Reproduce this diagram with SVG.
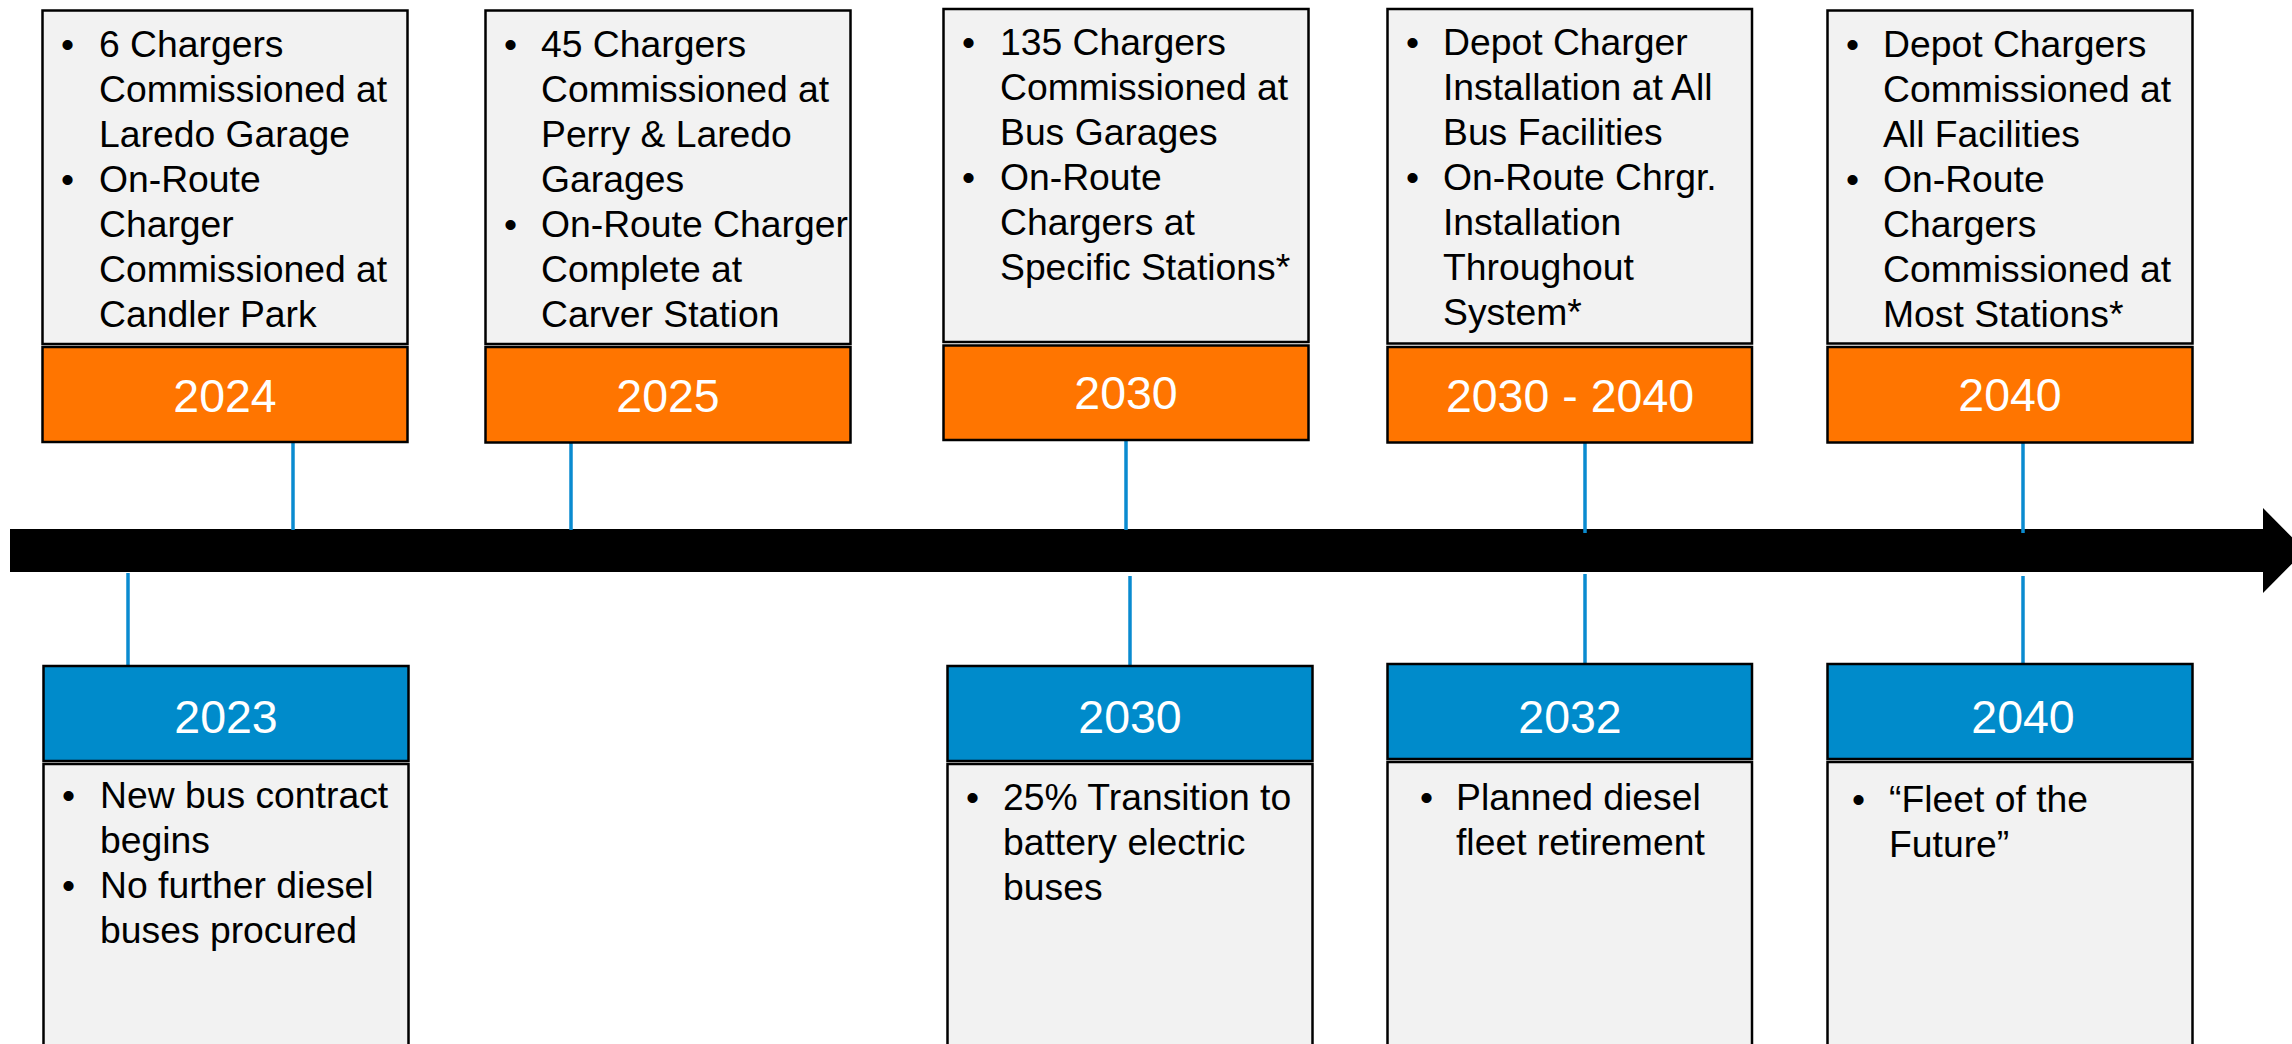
<svg xmlns="http://www.w3.org/2000/svg" width="2292" height="1044" viewBox="0 0 2292 1044">
  <style>
    .card { fill: #F2F2F2; stroke: #000; stroke-width: 2.5; }
    .orange { fill: #FF7500; stroke: #000; stroke-width: 2.5; }
    .blue { fill: #008BCB; stroke: #000; stroke-width: 2.5; }
    .body { font-family: "Liberation Sans", Arial, sans-serif; font-size: 37.3px; fill: #000; }
    .year { font-family: "Liberation Sans", Arial, sans-serif; font-size: 46.5px; fill: #FFF; text-anchor: middle; }
    .link { stroke: #0A8BD0; stroke-width: 3.5; fill: none; }
  </style>
  <rect width="2292" height="1044" fill="#FFFFFF"/>

  <!-- timeline arrow -->
  <g id="timeline">
    <polygon points="10,529 2263,529 2263,508 2305,550.5 2263,593 2263,572 10,572" fill="#000"/>
  </g>

  <!-- connectors between the timeline and the milestone cards -->
  <g id="connectors">
    <line class="link" x1="293" y1="443" x2="293" y2="530"/>
    <line class="link" x1="571" y1="443" x2="571" y2="530"/>
    <line class="link" x1="1126" y1="441" x2="1126" y2="530"/>
    <line class="link" x1="1585" y1="443" x2="1585" y2="533"/>
    <line class="link" x1="2023" y1="443" x2="2023" y2="533"/>
    <line class="link" x1="128" y1="573" x2="128" y2="666"/>
    <line class="link" x1="1130" y1="576" x2="1130" y2="666"/>
    <line class="link" x1="1585" y1="574" x2="1585" y2="664"/>
    <line class="link" x1="2023" y1="576" x2="2023" y2="664"/>
  </g>

  <!-- infrastructure milestones (above the line) -->
  <g id="node-2024">
    <rect class="card" x="42.5" y="10.5" width="365" height="333.5"/>
    <rect class="orange" x="42.5" y="347" width="365" height="95"/>
    <text class="body">
      <tspan x="61" y="56.7">•</tspan><tspan x="99" y="56.7">6 Chargers</tspan>
      <tspan x="99" y="101.7">Commissioned at</tspan>
      <tspan x="99" y="146.7">Laredo Garage</tspan>
      <tspan x="61" y="191.7">•</tspan><tspan x="99" y="191.7">On-Route</tspan>
      <tspan x="99" y="236.7">Charger</tspan>
      <tspan x="99" y="281.7">Commissioned at</tspan>
      <tspan x="99" y="326.7">Candler Park</tspan>
    </text>
    <text class="year" x="225" y="412">2024</text>
  </g>

  <g id="node-2025">
    <rect class="card" x="485.5" y="10.5" width="365" height="333.5"/>
    <rect class="orange" x="485.5" y="347" width="365" height="95.5"/>
    <text class="body">
      <tspan x="504" y="56.7">•</tspan><tspan x="541" y="56.7">45 Chargers</tspan>
      <tspan x="541" y="101.7">Commissioned at</tspan>
      <tspan x="541" y="146.7">Perry &amp; Laredo</tspan>
      <tspan x="541" y="191.7">Garages</tspan>
      <tspan x="504" y="236.7">•</tspan><tspan x="541" y="236.7">On-Route Charger</tspan>
      <tspan x="541" y="281.7">Complete at</tspan>
      <tspan x="541" y="326.7">Carver Station</tspan>
    </text>
    <text class="year" x="668" y="412">2025</text>
  </g>

  <g id="node-2030-infra">
    <rect class="card" x="943.5" y="9" width="365" height="333"/>
    <rect class="orange" x="943.5" y="345.5" width="365" height="94.5"/>
    <text class="body">
      <tspan x="962" y="55">•</tspan><tspan x="1000" y="55">135 Chargers</tspan>
      <tspan x="1000" y="100">Commissioned at</tspan>
      <tspan x="1000" y="145">Bus Garages</tspan>
      <tspan x="962" y="190">•</tspan><tspan x="1000" y="190">On-Route</tspan>
      <tspan x="1000" y="235">Chargers at</tspan>
      <tspan x="1000" y="280">Specific Stations*</tspan>
    </text>
    <text class="year" x="1126" y="409">2030</text>
  </g>

  <g id="node-2030-2040">
    <rect class="card" x="1387.5" y="9" width="364.5" height="334.5"/>
    <rect class="orange" x="1387.5" y="347" width="364.5" height="95.5"/>
    <text class="body">
      <tspan x="1406" y="55">•</tspan><tspan x="1443" y="55">Depot Charger</tspan>
      <tspan x="1443" y="100">Installation at All</tspan>
      <tspan x="1443" y="145">Bus Facilities</tspan>
      <tspan x="1406" y="190">•</tspan><tspan x="1443" y="190">On-Route Chrgr.</tspan>
      <tspan x="1443" y="235">Installation</tspan>
      <tspan x="1443" y="280">Throughout</tspan>
      <tspan x="1443" y="325">System*</tspan>
    </text>
    <text class="year" x="1570" y="412">2030 - 2040</text>
  </g>

  <g id="node-2040-infra">
    <rect class="card" x="1827.5" y="10.5" width="365" height="333"/>
    <rect class="orange" x="1827.5" y="347" width="365" height="95.5"/>
    <text class="body">
      <tspan x="1846" y="57">•</tspan><tspan x="1883" y="57">Depot Chargers</tspan>
      <tspan x="1883" y="102">Commissioned at</tspan>
      <tspan x="1883" y="147">All Facilities</tspan>
      <tspan x="1846" y="192">•</tspan><tspan x="1883" y="192">On-Route</tspan>
      <tspan x="1883" y="237">Chargers</tspan>
      <tspan x="1883" y="282">Commissioned at</tspan>
      <tspan x="1883" y="327">Most Stations*</tspan>
    </text>
    <text class="year" x="2010" y="411">2040</text>
  </g>

  <!-- fleet milestones (below the line) -->
  <g id="node-2023">
    <rect class="blue" x="43.5" y="666" width="365" height="95"/>
    <rect class="card" x="43.5" y="764" width="365" height="300"/>
    <text class="year" x="226" y="733">2023</text>
    <text class="body">
      <tspan x="62" y="808">•</tspan><tspan x="100" y="808">New bus contract</tspan>
      <tspan x="100" y="853">begins</tspan>
      <tspan x="62" y="898">•</tspan><tspan x="100" y="898">No further diesel</tspan>
      <tspan x="100" y="943">buses procured</tspan>
    </text>
  </g>

  <g id="node-2030-fleet">
    <rect class="blue" x="947.5" y="666" width="365" height="95"/>
    <rect class="card" x="947.5" y="764" width="365" height="300"/>
    <text class="year" x="1130" y="733">2030</text>
    <text class="body">
      <tspan x="966" y="810">•</tspan><tspan x="1003" y="810">25% Transition to</tspan>
      <tspan x="1003" y="855">battery electric</tspan>
      <tspan x="1003" y="900">buses</tspan>
    </text>
  </g>

  <g id="node-2032">
    <rect class="blue" x="1387.5" y="664" width="364.5" height="95"/>
    <rect class="card" x="1387.5" y="762" width="364.5" height="300"/>
    <text class="year" x="1570" y="733">2032</text>
    <text class="body">
      <tspan x="1420" y="810">•</tspan><tspan x="1456" y="810">Planned diesel</tspan>
      <tspan x="1456" y="855">fleet retirement</tspan>
    </text>
  </g>

  <g id="node-2040-fleet">
    <rect class="blue" x="1827.5" y="664" width="365" height="95"/>
    <rect class="card" x="1827.5" y="762" width="365" height="300"/>
    <text class="year" x="2023" y="733">2040</text>
    <text class="body">
      <tspan x="1852" y="812">•</tspan><tspan x="1889" y="812">“Fleet of the</tspan>
      <tspan x="1889" y="857">Future”</tspan>
    </text>
  </g>
</svg>
